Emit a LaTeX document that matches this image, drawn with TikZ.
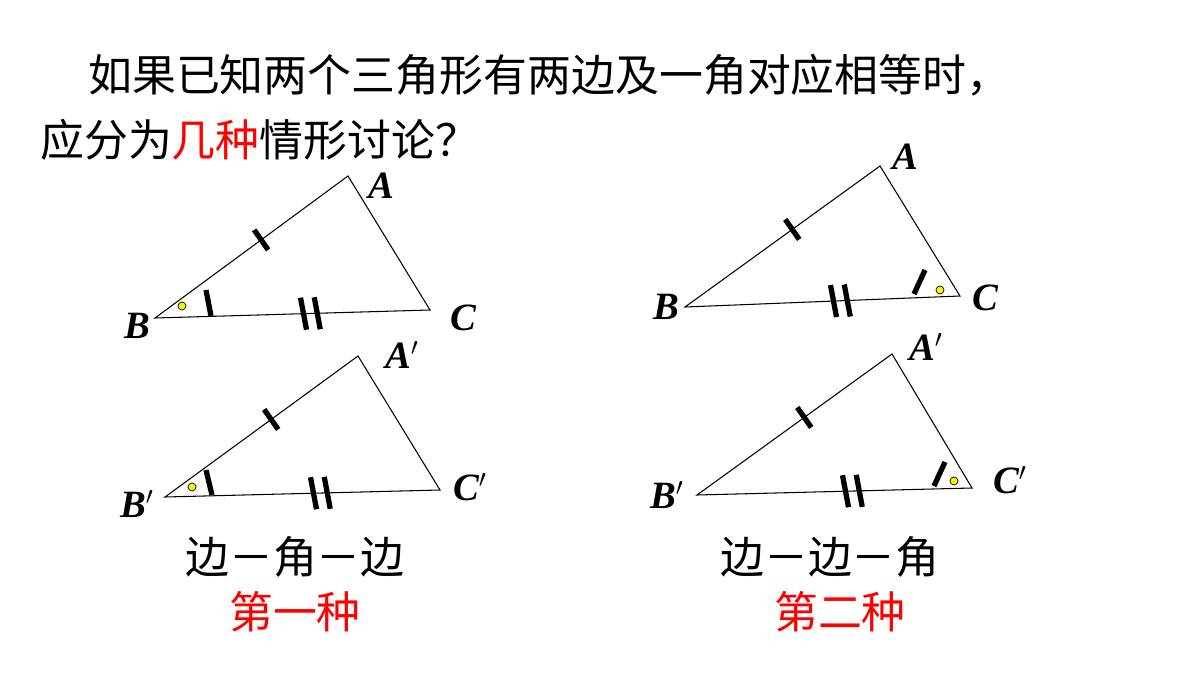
\documentclass[tikz,border=0pt]{standalone}
\usetikzlibrary{calc}
\usepackage{fontspec}
\newfontfamily\cjk{Noto Sans CJK SC}
\setmainfont{Liberation Serif}
\begin{document}
\begin{tikzpicture}[x=0.02cm,y=-0.02cm,
 tri/.style={draw,line width=0.6pt},
 tk/.style={line width=3pt},
 dot/.style={draw=black,fill=yellow,line width=0.4pt},
 lab/.style={font=\fontsize{22}{22}\selectfont\bfseries\itshape},
 cn/.style={font=\cjk\fontsize{25}{25}\selectfont}]
\useasboundingbox (0,0) rectangle (1200,675);
\node[cn,anchor=west] (t1) at (82,75) {如果已知两个三角形有两边及一角对应相等时，};
\node[cn,anchor=west] (t2) at (34,140) {应分为\textcolor{red}{几种}情形讨论？};
% triangles
\newcommand{\mytri}[9]{%
 \coordinate (#1B) at (#2,#3); \coordinate (#1A) at (#4,#5); \coordinate (#1C) at (#6,#7);
 \draw[tri] (#1B)--(#1A)--(#1C)--cycle;
 \draw[tk] ($(#1B)!0.55!(#1A)+(7,10)$) -- ($(#1B)!0.55!(#1A)+(-7,-10)$);
 \draw[tk] ($(#1B)!0.54!(#1C)+(-3,-16)$) -- ($(#1B)!0.54!(#1C)+(3,16)$);
 \draw[tk] ($(#1B)!0.59!(#1C)+(-3,-16)$) -- ($(#1B)!0.59!(#1C)+(3,16)$);
}
\mytri{p}{155}{318}{348}{176}{430}{310}{}{}
\mytri{q}{165}{497}{358}{356}{440}{490}{}{}
\mytri{r}{685}{307}{880}{166}{960}{296}{}{}
\mytri{s}{697}{495}{892}{354}{972}{488}{}{}
% angle marks
\draw[tk] (206,290)--(211,316); \draw[dot] (182,306) circle (4);
\draw[tk] (206,470)--(212,495); \draw[dot] (192,487) circle (4);
\draw[tk] (925,270)--(914,294); \draw[dot] (940,290) circle (4);
\draw[tk] (945,462)--(934,486); \draw[dot] (954,481) circle (4);
% labels
\node[lab] (lA1) at (381,186) {A}; \node[lab] (lB1) at (137,326) {B}; \node[lab] (lC1) at (463,318) {C};
\node[lab] (lA2) at (402,355) {A$'$}; \node[lab] (lB2) at (137,504) {B$'$}; \node[lab] (lC2) at (470,487) {C$'$};
\node[lab] (lA3) at (905,157) {A}; \node[lab] (lB3) at (666,307) {B}; \node[lab] (lC3) at (985,298) {C};
\node[lab] (lA4) at (926,347) {A$'$}; \node[lab] (lB4) at (667,495) {B$'$}; \node[lab] (lC4) at (1010,480) {C$'$};
% captions
\node[cn] (c1) at (295,557) {边－角－边};
\node[cn,text=red] (c2) at (295,612) {第一种};
\node[cn] (c3) at (830,557) {边－边－角};
\node[cn,text=red] (c4) at (840,612) {第二种};
\end{tikzpicture}
\end{document}
